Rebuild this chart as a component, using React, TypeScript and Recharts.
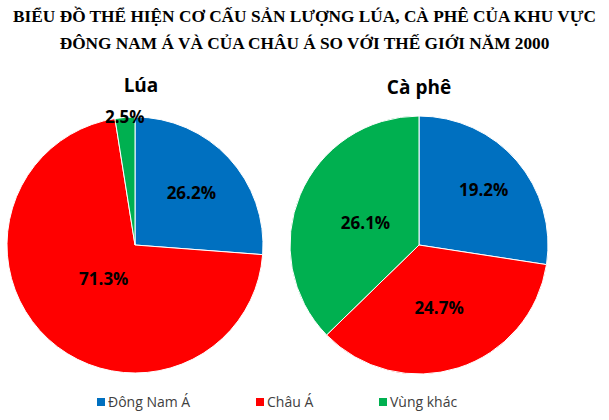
import { PieChart, Pie, Cell } from 'recharts';

const regions = ['Đông Nam Á', 'Châu Á', 'Vùng khác'];
const colors = ['#0070C0', '#FF0000', '#00B050'];
const luaValues = [26.2, 71.3, 2.5];
const capheValues = [19.2, 24.7, 26.1];
// khoảng cách nhãn tính theo bán kính
const luaLabelPos = [0.6, 0.36, 1.01];
const capheLabelPos = [0.66, 0.51, 0.45];

const RAD = Math.PI / 180;
const labelFont = '"Open Sans", "Noto Sans", sans-serif';

function makeLabel(values: number[], pos: number[]) {
  return (p: any) => {
    const r = p.outerRadius * pos[p.index];
    const x = p.cx + r * Math.cos(-p.midAngle * RAD);
    const y = p.cy + r * Math.sin(-p.midAngle * RAD);
    return (
      <text x={x} y={y} textAnchor="middle" dominantBaseline="central"
        fill="#000" fontFamily={labelFont} fontWeight={700} fontSize={17}>
        {values[p.index].toFixed(1)}%
      </text>
    );
  };
}

export default function App() {
  const lua = regions.map((name, i) => ({ name, value: luaValues[i] }));
  const caphe = regions.map((name, i) => ({ name, value: capheValues[i] }));

  return (
    <div style={{ position: 'absolute', left: 0, top: 0, width: 609, height: 420, background: '#fff' }}>
      <div style={{
        position: 'absolute', left: 0, top: 3, width: 609, textAlign: 'center',
        fontFamily: '"Liberation Serif", serif', fontWeight: 700, fontSize: 17.3, lineHeight: '27px', color: '#000',
      }}>
        BIỂU ĐỒ THỂ HIỆN CƠ CẤU SẢN LƯỢNG LÚA, CÀ PHÊ CỦA KHU VỰC<br />
        ĐÔNG NAM Á VÀ CỦA CHÂU Á SO VỚI THẾ GIỚI NĂM 2000
      </div>

      <div style={{ position: 'absolute', left: 91, top: 72, width: 100, textAlign: 'center', fontFamily: labelFont, fontWeight: 700, fontSize: 19 }}>Lúa</div>
      <div style={{ position: 'absolute', left: 369, top: 74, width: 100, textAlign: 'center', fontFamily: labelFont, fontWeight: 700, fontSize: 19 }}>Cà phê</div>

      <div style={{ position: 'absolute', left: 0, top: 0 }}>
        <PieChart width={609} height={420} margin={{ top: 0, right: 0, bottom: 0, left: 0 }}>
          <Pie data={lua} dataKey="value" cx={135} cy={245} outerRadius={128}
            startAngle={90} endAngle={-270} stroke="#fff" strokeWidth={1}
            labelLine={false} label={makeLabel(luaValues, luaLabelPos)} isAnimationActive={false}>
            {lua.map((d, i) => <Cell key={d.name} fill={colors[i]} />)}
          </Pie>
          <Pie data={caphe} dataKey="value" cx={419} cy={245} outerRadius={129}
            startAngle={90} endAngle={-270} stroke="#fff" strokeWidth={1}
            labelLine={false} label={makeLabel(capheValues, capheLabelPos)} isAnimationActive={false}>
            {caphe.map((d, i) => <Cell key={d.name} fill={colors[i]} />)}
          </Pie>
        </PieChart>
      </div>

      <div style={{ position: 'absolute', left: 0, top: 392, width: 609, height: 20 }}>
        {regions.map((name, i) => (
          <div key={name} style={{
            position: 'absolute', left: [97, 256, 379][i], top: 0, display: 'flex', alignItems: 'center',
            fontFamily: labelFont, fontSize: 14, color: '#404040', whiteSpace: 'nowrap',
          }}>
            <span style={{ display: 'inline-block', width: 8, height: 8, background: colors[i], marginRight: 3 }} />
            {name}
          </div>
        ))}
      </div>
    </div>
  );
}
